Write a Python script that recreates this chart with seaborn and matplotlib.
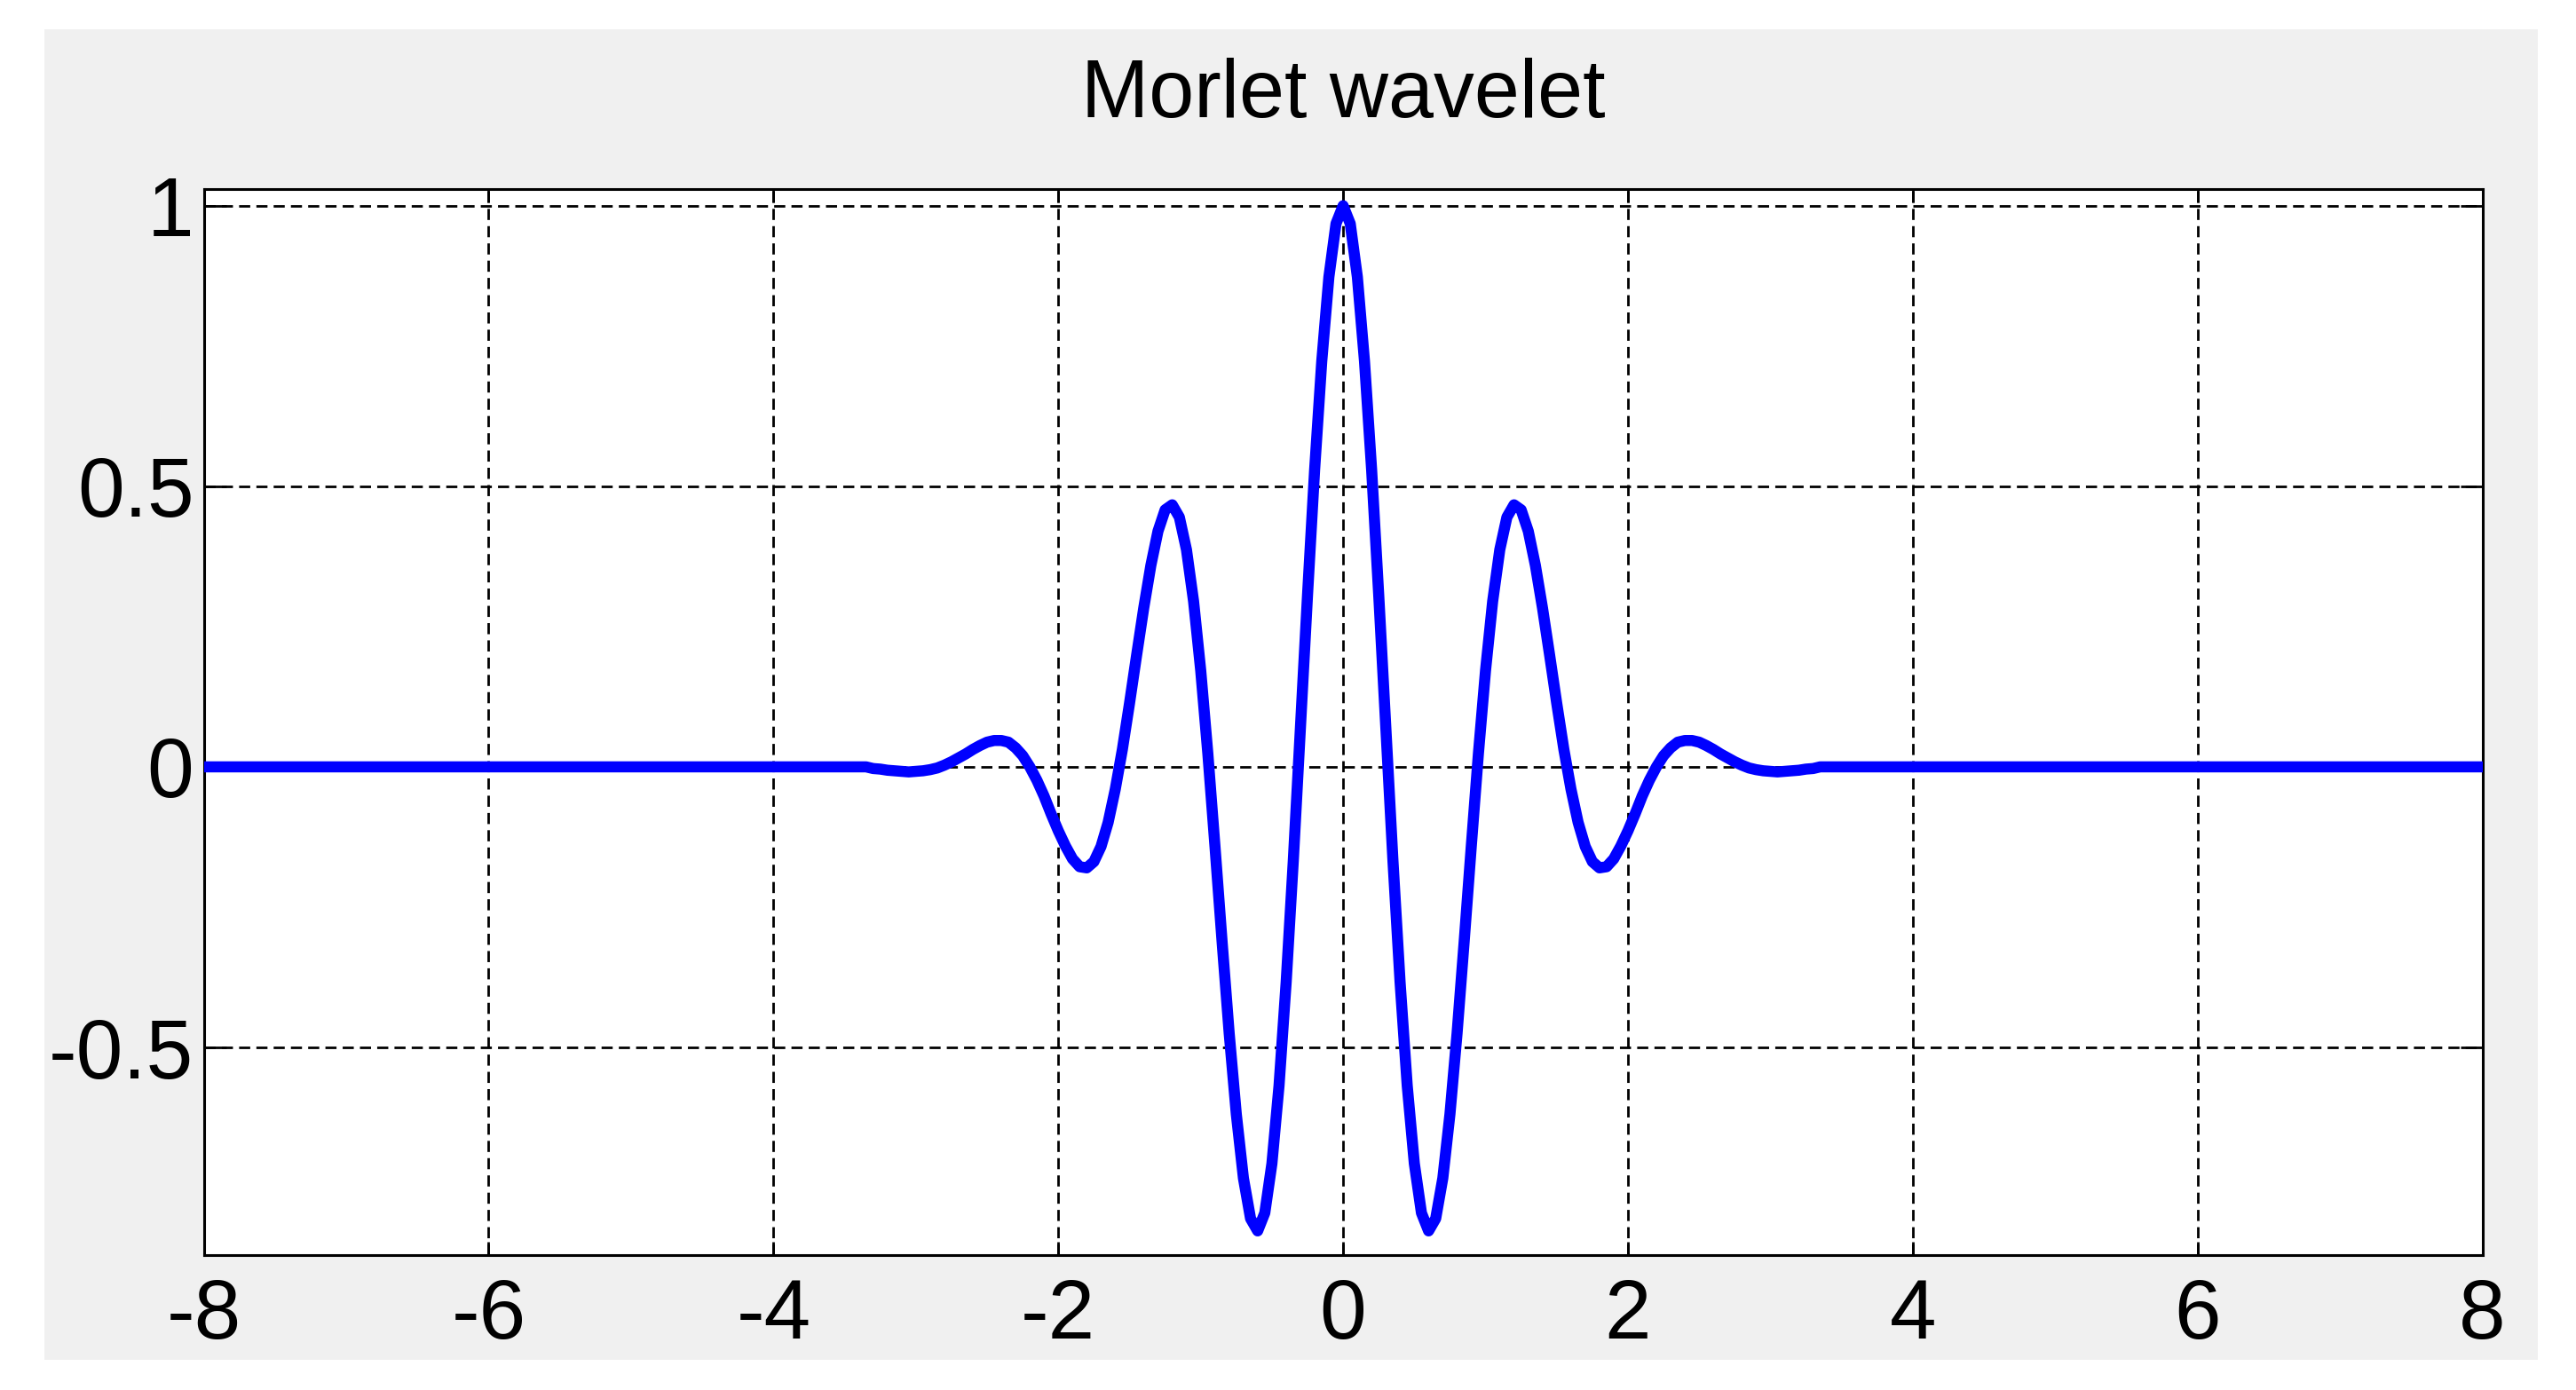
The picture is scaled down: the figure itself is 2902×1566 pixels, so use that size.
import numpy as np
import pandas as pd
import matplotlib
matplotlib.use("Agg")
import matplotlib.pyplot as plt
import seaborn as sns
from matplotlib.patches import Rectangle

# values (x, psi(x)); flat at zero outside about |x| > 3.3
x_left_flat = [-8.0, -3.35]
y_left_flat = [0.0, 0.0]

x_half = [0.00, 0.05, 0.10, 0.15, 0.20, 0.25, 0.30, 0.35, 0.40, 0.45,
          0.50, 0.55, 0.60, 0.65, 0.70, 0.75, 0.80, 0.85, 0.90, 0.95,
          1.00, 1.05, 1.10, 1.15, 1.20, 1.25, 1.30, 1.35, 1.40, 1.45,
          1.50, 1.55, 1.60, 1.65, 1.70, 1.75, 1.80, 1.85, 1.90, 1.95,
          2.00, 2.05, 2.10, 2.15, 2.20, 2.25, 2.30, 2.35, 2.40, 2.45,
          2.50, 2.55, 2.60, 2.65, 2.70, 2.75, 2.80, 2.85, 2.90, 2.95,
          3.00, 3.05, 3.10, 3.15, 3.20, 3.25, 3.30]
y_half = [1.000, 0.968, 0.873, 0.723, 0.530, 0.306, 0.068, -0.168, -0.384, -0.568,
          -0.707, -0.795, -0.827, -0.805, -0.733, -0.619, -0.475, -0.311, -0.141, 0.024,
          0.172, 0.295, 0.387, 0.445, 0.467, 0.458, 0.420, 0.359, 0.283, 0.199,
          0.113, 0.031, -0.040, -0.099, -0.142, -0.169, -0.180, -0.178, -0.164, -0.141,
          -0.114, -0.084, -0.052, -0.024, 0.000, 0.020, 0.034, 0.044, 0.047, 0.047,
          0.044, 0.038, 0.031, 0.023, 0.016, 0.009, 0.003, -0.002, -0.005, -0.007,
          -0.008, -0.009, -0.008, -0.007, -0.006, -0.004, -0.003]

x_right_flat = [3.35, 8.0]
y_right_flat = [0.0, 0.0]

x_ticks = [-8, -6, -4, -2, 0, 2, 4, 6, 8]
y_ticks = [-0.5, 0, 0.5, 1]
y_tick_labels = ["-0.5", "0", "0.5", "1"]
title = "Morlet wavelet"

# curve is symmetric: left half is the mirror of the right half
x_all = x_left_flat + [-v for v in x_half[:0:-1]] + x_half + x_right_flat
y_all = y_left_flat + y_half[:0:-1] + y_half + y_right_flat
df = pd.DataFrame({"x": x_all, "psi": y_all})

sns.set_style("ticks")
plt.rcParams["font.family"] = ["Liberation Sans Narrow", "Liberation Sans", "DejaVu Sans"]

fig = plt.figure(figsize=(29.02, 15.66), dpi=100, facecolor="white")
fig.patches.append(Rectangle((0.0172, 0.0217), 0.968, 0.9573, transform=fig.transFigure,
                             facecolor="#f0f0f0", edgecolor="none", zorder=-10))
ax = fig.add_axes([0.0791, 0.0971, 0.8846, 0.767])
ax.set_facecolor("white")

sns.lineplot(data=df, x="x", y="psi", ax=ax, color="#0000ff", linewidth=9,
             sort=False, estimator=None, zorder=3)

ax.set_xlim(-8, 8)
ax.set_ylim(-0.87, 1.03)
ax.set_xticks(x_ticks)
ax.set_xticklabels([str(t) for t in x_ticks])
ax.set_yticks(y_ticks)
ax.set_yticklabels(y_tick_labels)
ax.set_xlabel("")
ax.set_ylabel("")

ax.grid(True, color="black", linewidth=2.0, linestyle=(0, (4.5, 2.5)), zorder=1)
ax.set_axisbelow(True)

for s in ax.spines.values():
    s.set_visible(True)
    s.set_color("black")
    s.set_linewidth(2.2)

ax.tick_params(axis="x", direction="in", length=11, width=2, top=True, bottom=True,
               labelsize=68, pad=18, colors="black")
ax.tick_params(axis="y", direction="in", length=18, width=2, left=True, right=True,
               labelsize=68, pad=8, colors="black")

ax.set_title(title, fontsize=66, pad=58, color="black")

fig.savefig("out.png", dpi=100, facecolor="white")
